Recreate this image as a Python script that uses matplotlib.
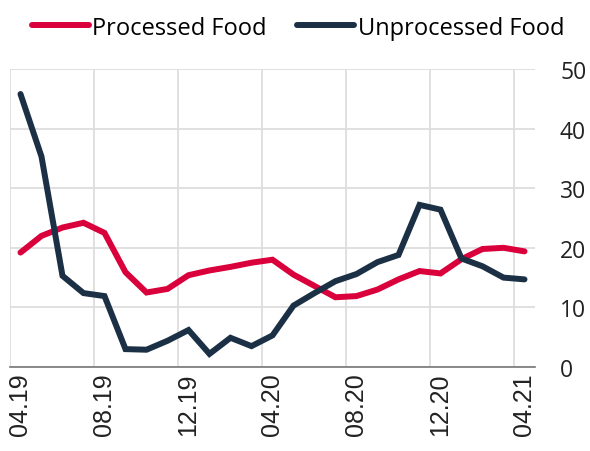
import matplotlib
matplotlib.use("Agg")
import matplotlib.pyplot as plt

months = ["04.19", "05.19", "06.19", "07.19", "08.19", "09.19", "10.19", "11.19",
          "12.19", "01.20", "02.20", "03.20", "04.20", "05.20", "06.20", "07.20",
          "08.20", "09.20", "10.20", "11.20", "12.20", "01.21", "02.21", "03.21", "04.21"]
processed = [19.2, 22.0, 23.4, 24.2, 22.5, 15.9, 12.5, 13.1, 15.4, 16.2, 16.8, 17.5,
             18.0, 15.5, 13.6, 11.7, 11.9, 13.0, 14.7, 16.1, 15.7, 18.1, 19.8, 20.0, 19.4]
unprocessed = [45.8, 35.3, 15.3, 12.4, 11.9, 3.0, 2.9, 4.4, 6.2, 2.2, 4.9, 3.5,
               5.3, 10.3, 12.4, 14.4, 15.6, 17.6, 18.8, 27.2, 26.4, 18.2, 16.9, 15.0, 14.7]

red = "#d9003b"
navy = "#1b3045"

fig = plt.figure(figsize=(5.9, 4.52), dpi=100)
ax = fig.add_axes([10 / 590, 84 / 452, 525 / 590, 298 / 452])

x = list(range(len(months)))
ax.plot(x, processed, color=red, lw=4.3, solid_capstyle="round", solid_joinstyle="miter", label="Processed Food", zorder=3)
ax.plot(x, unprocessed, color=navy, lw=4.3, solid_capstyle="round", solid_joinstyle="miter", label="Unprocessed Food", zorder=3)

ax.set_xlim(-0.5, len(months) - 0.5)
ax.set_ylim(0, 50)

ax.set_xticks(x[::4])
ax.set_xticklabels(months[::4], rotation=90, fontsize=18, family="Liberation Sans", color="#222222")
ax.set_xticks([i - 0.5 for i in x[::4]], minor=True)
ax.tick_params(axis="x", which="both", length=0, pad=4)
ax.grid(axis="x", which="minor", color="#dddddd", lw=1.3)

ax.yaxis.tick_right()
ax.set_yticks([0, 10, 20, 30, 40, 50])
ax.tick_params(axis="y", length=0, pad=18, labelsize=16.5, labelcolor="#222222")
for lab in ax.get_yticklabels():
    lab.set_family("Open Sans")
ax.grid(axis="y", which="major", color="#dddddd", lw=1.3)

for s in ["top", "left", "right"]:
    ax.spines[s].set_visible(False)
ax.spines["bottom"].set_color("#777777")
ax.spines["bottom"].set_linewidth(1.2)

fig.legend(loc="upper center", bbox_to_anchor=(0.505, 1.01), ncol=2, frameon=False,
           prop={"family": "Open Sans", "size": 17}, handlelength=2.4,
           handletextpad=0.15, columnspacing=1.3)

fig.savefig("out.png", dpi=100)
